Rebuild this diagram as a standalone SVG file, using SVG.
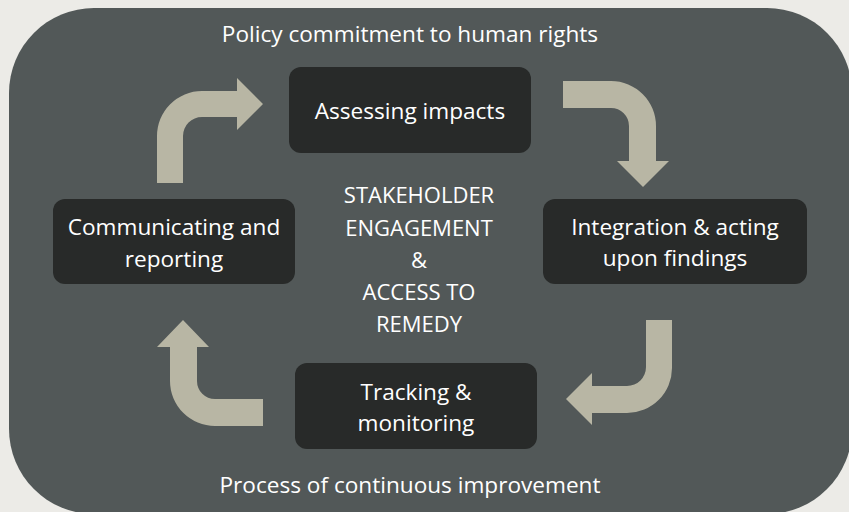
<svg xmlns="http://www.w3.org/2000/svg" width="849" height="512" viewBox="0 0 849 512">
<style>
.t{font-family:"Open Sans","Liberation Sans",sans-serif;font-size:22.6px;fill:#ffffff;text-anchor:middle}
.c{font-size:22px}
.box{fill:#282a29}
.arr{fill:#b8b6a4}
</style>
<rect x="0" y="0" width="849" height="512" fill="#ecebe7"/>
<rect id="panel" x="9" y="8" width="843" height="506" rx="85" ry="85" fill="#525858"/>
<text class="t" x="410" y="42">Policy commitment to human rights</text>
<text class="t" x="410" y="493">Process of continuous improvement</text>
<g id="center-label">
<text class="t c" x="419" y="203">STAKEHOLDER</text>
<text class="t c" x="419" y="236">ENGAGEMENT</text>
<text class="t c" x="419" y="268">&amp;</text>
<text class="t c" x="419" y="300">ACCESS TO</text>
<text class="t c" x="419" y="332">REMEDY</text>
</g>
<g id="connectors">
<path class="arr" d="M157,183 L157,136 A45,45 0 0 1 202,91 L237,91 L237,78 L263,104 L237,130 L237,117 L202,117 A19,19 0 0 0 183,136 L183,183 Z"/>
<path class="arr" d="M563,81 L611,81 A45,45 0 0 1 656,126 L656,161 L669,161 L643,187 L617,161 L629,161 L629,126 A18,18 0 0 0 611,108 L563,108 Z"/>
<path class="arr" d="M672,320 L672,368 A45,45 0 0 1 627,413 L592,413 L592,425 L566,399 L592,373 L592,386 L627,386 A19,19 0 0 0 646,367 L646,320 Z"/>
<path class="arr" d="M263,426 L215,426 A45,45 0 0 1 170,381 L170,347 L157,347 L183,320 L209,347 L197,347 L197,381 A18,18 0 0 0 215,399 L263,399 Z"/>
</g>
<g id="assessing">
<rect class="box" x="289" y="67" width="242" height="86" rx="12"/>
<text class="t" x="410" y="119">Assessing impacts</text>
</g>
<g id="integration">
<rect class="box" x="543" y="199" width="264" height="85" rx="12"/>
<text class="t" x="675" y="235">Integration &amp; acting</text>
<text class="t" x="675" y="266">upon findings</text>
</g>
<g id="tracking">
<rect class="box" x="295" y="363" width="242" height="86" rx="12"/>
<text class="t" x="416" y="400">Tracking &amp;</text>
<text class="t" x="416" y="431">monitoring</text>
</g>
<g id="communicating">
<rect class="box" x="53" y="199" width="242" height="85" rx="12"/>
<text class="t" x="174" y="235">Communicating and</text>
<text class="t" x="174" y="267">reporting</text>
</g>
</svg>
